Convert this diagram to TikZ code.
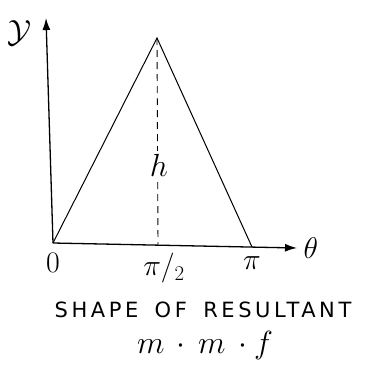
\RequirePackage{fix-cm}
\documentclass[tikz,border=0pt]{standalone}
\usepackage{fontspec}
\usetikzlibrary{arrows.meta,positioning}
\newfontfamily\capfont[LetterSpace=17, WordSpace=1.6]{DejaVu Sans}
\definecolor{ink}{HTML}{000000}

\begin{document}
\begin{tikzpicture}[x=1pt, y=-1pt, line width=1pt,
  axis/.style={-{Latex[length=12pt, width=8pt]}, ink, line width=1.3pt},
  curve/.style={ink, line width=1pt},
  guide/.style={ink, dashed, dash pattern=on 7pt off 5pt, line width=0.9pt},
  lbl/.style={font=\fontsize{29.86}{32}\selectfont, inner sep=0pt},
  big/.style={font=\fontsize{32}{34}\selectfont, inner sep=0pt},
  captxt/.style={font=\capfont\fontsize{21}{23}\selectfont, inner sep=0pt}]
  \useasboundingbox (0,0) rectangle (374,370);
  \coordinate (O) at (53,243);
  \coordinate (ytip) at (46,18);
  \coordinate (xtip) at (297,248);
  \coordinate (apex) at (157,38);
  \coordinate (pi) at (252,247);
  \coordinate (mid) at (158,245);
  \draw[axis] (O) -- (ytip);
  \draw[axis] (O) -- (xtip);
  \draw[curve] (O) -- (apex) -- (pi);
  \draw[guide] (apex) -- (mid);
  \node[big] (ylab) at (20,33) {$\mathcal{Y}$};
  \node[lbl, right=6pt of xtip] (thlab) {$\theta$};
  \node[big, fill=white, inner sep=3pt] (hlab) at (159,165) {$h$};
  \node[lbl, below=10pt of O] (zero) {$0$};
  \node[lbl, below=8pt of mid, xshift=6pt] (half) {$\pi/_{2}$};
  \node[lbl, below=9pt of pi] (pilab) {$\pi$};
  \node[captxt] (title) at (203,310) {SHAPE OF RESULTANT};
  \node[big, below=12pt of title, xshift=2pt] (mmf) {$m\,\cdot\,m\,\cdot f$};
\end{tikzpicture}
\end{document}
